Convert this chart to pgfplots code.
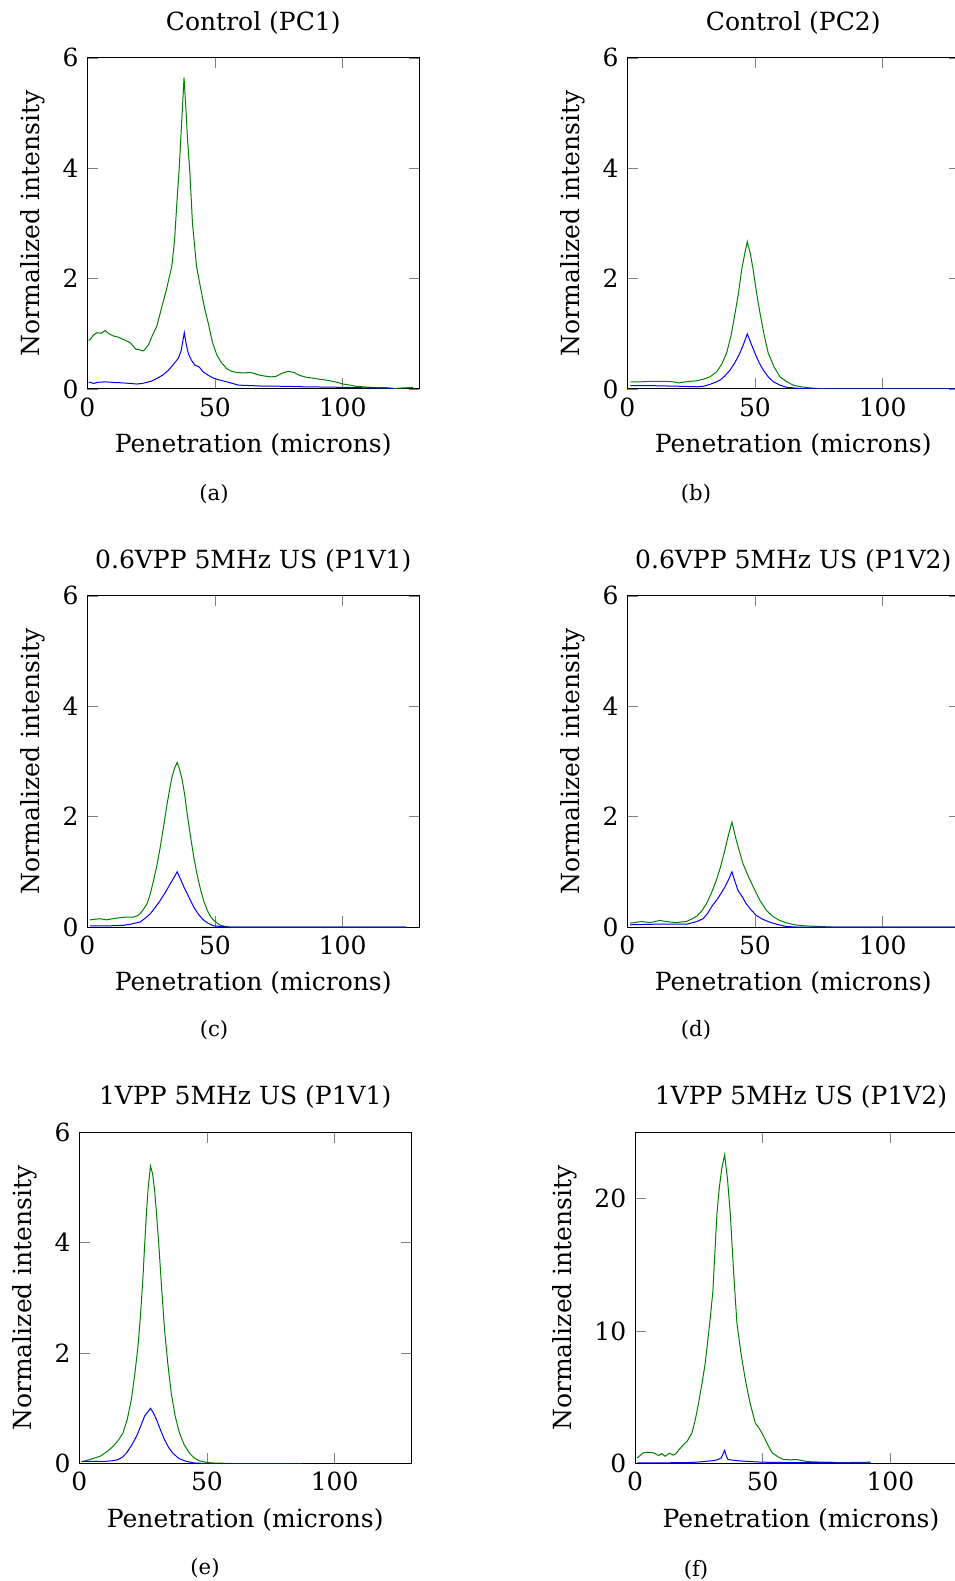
\documentclass[border=0pt]{standalone}
\usepackage{fontspec}
\setmainfont{DejaVu Serif}
\usepackage{pgfplots}
\pgfplotsset{compat=1.18}

\pgfplotsset{
  panel/.style={
    scale only axis,
    width=132.8pt, height=132.5pt,
    anchor=north west,
    xmin=0, xmax=130,
    ymin=0, ymax=6,
    xtick={0,50,100},
    ytick={0,2,4,6},
    xlabel={Penetration (microns)},
    ylabel={Normalized intensity},
    /pgf/number format/assume math mode=true,
    tick label style={font=\fontsize{10}{12}\selectfont},
    label style={font=\fontsize{10}{12}\selectfont},
    title style={font=\fontsize{10}{12}\selectfont},
  },
  gline/.style={color=green!50!black, line width=0.4pt},
  bline/.style={color=blue, line width=0.4pt},
}

\begin{document}
\begin{tikzpicture}
\useasboundingbox (0,0) rectangle (382pt,-632.4pt);

% (a)
\begin{axis}[panel, at={(34.9pt,-23.1pt)}, title={Control (PC1)}]
\addplot[gline] coordinates {
(0.5,0.88)(1.2,0.90)(2.5,0.98)(3.8,1.02)(5.5,1.01)(7.0,1.06)(8.5,1.00)(10.3,0.96)
(12,0.94)(14,0.90)(16.8,0.84)(19.1,0.72)(20.5,0.71)(22,0.69)(24,0.80)(25.5,0.97)
(27.2,1.13)(29,1.45)(31,1.80)(33.1,2.22)(34.2,2.70)(35,3.30)(36,4.00)(36.6,4.51)
(37.4,5.20)(37.9,5.64)(38.6,5.10)(39.3,4.50)(40.2,3.91)(41.2,3.00)(42.8,2.22)
(44.5,1.80)(46,1.45)(47.4,1.19)(49,0.85)(50.7,0.62)(52.5,0.48)(54.6,0.37)(56.5,0.32)
(58.5,0.30)(61,0.29)(63.7,0.30)(65.5,0.28)(67.6,0.25)(70,0.23)(72.1,0.22)(74,0.23)
(76,0.28)(78.6,0.32)(81,0.30)(83,0.25)(85.8,0.21)(88,0.20)(90.5,0.18)(93.6,0.16)
(96,0.14)(98,0.12)(100.1,0.09)(103,0.07)(105,0.05)(107.9,0.04)(111,0.03)(114,0.02)
(117,0.02)(120,0.01)(124,0.02)(127.5,0.03)
};
\addplot[bline] coordinates {
(0.5,0.12)(1.2,0.12)(2.5,0.10)(4,0.12)(7,0.13)(10,0.12)(14.2,0.11)(17,0.10)(19.4,0.09)
(21.5,0.10)(23.3,0.12)(25,0.14)(27.2,0.19)(29.5,0.25)(31.8,0.34)(33.8,0.45)(35.7,0.56)
(36.8,0.70)(38,1.02)(38.8,0.80)(39.6,0.64)(40.8,0.52)(42.2,0.43)(43.8,0.40)(45.4,0.31)
(47.3,0.25)(49.3,0.20)(52,0.16)(54.6,0.13)(57,0.10)(59.1,0.07)(65,0.06)(70,0.05)
(75.4,0.05)(85,0.04)(100,0.03)(110,0.02)(117,0.02)(120,0.01)
};
\end{axis}

% (b)
\begin{axis}[panel, at={(250.9pt,-23.1pt)}, title={Control (PC2)}]
\addplot[gline] coordinates {
(1.2,0.13)(5,0.13)(10.3,0.14)(14,0.14)(18.1,0.13)(20,0.11)(23,0.13)(27.2,0.15)(30,0.18)
(32.4,0.22)(35,0.31)(37,0.45)(38.9,0.65)(40.7,0.98)(42.2,1.37)(43.6,1.75)(44.8,2.16)
(46,2.45)(47.0,2.67)(48.2,2.45)(49.3,2.16)(50.6,1.75)(52,1.37)(53.6,0.98)(55.2,0.65)
(57.5,0.40)(59.8,0.22)(62.5,0.13)(65,0.07)(68,0.04)(71.5,0.02)(75,0.01)(80,0.0)(130,0.0)
};
\addplot[bline] coordinates {
(1.2,0.06)(10,0.06)(20,0.05)(27.2,0.04)(30,0.05)(32.4,0.085)(34.5,0.12)(36.3,0.16)
(38.3,0.24)(40.2,0.34)(42.2,0.48)(44.1,0.65)(45.6,0.82)(47.0,1.0)(48.5,0.82)(50,0.65)
(51.6,0.48)(53.3,0.34)(55.2,0.22)(57.2,0.13)(59.8,0.07)(62.4,0.03)(65,0.02)(67.7,0.01)
(72,0.0)(130,0.0)
};
\end{axis}

% (c)
\begin{axis}[panel, at={(34.9pt,-238.3pt)}, title={0.6VPP 5MHz US (P1V1)}]
\addplot[gline] coordinates {
(1.1,0.13)(3,0.14)(5,0.15)(7.6,0.13)(10,0.15)(12.9,0.17)(15.5,0.18)(18.1,0.18)(19.5,0.20)
(20.7,0.24)(22,0.32)(23.4,0.42)(24.7,0.60)(26,0.85)(27.3,1.12)(28.6,1.45)(30,1.85)
(31.3,2.24)(32.3,2.50)(33.2,2.72)(34.2,2.88)(35.2,2.98)(36.2,2.85)(37.2,2.66)(38.2,2.38)
(39.1,2.06)(40.4,1.65)(41.7,1.27)(43,0.95)(44.4,0.67)(45.7,0.46)(47,0.30)(48.3,0.19)
(49.6,0.12)(50.9,0.07)(52.2,0.03)(54,0.01)(56,0.0)(125,0.0)
};
\addplot[bline] coordinates {
(1.1,0.02)(8,0.02)(14,0.03)(16.8,0.05)(18.7,0.07)(20.7,0.09)(22.7,0.16)(24.7,0.24)
(26.7,0.36)(28.6,0.48)(30.6,0.63)(32.6,0.79)(34,0.90)(35.2,1.0)(36.5,0.87)(37.8,0.73)
(39.7,0.55)(41.7,0.36)(43.7,0.22)(45.7,0.12)(47.6,0.06)(49.6,0.02)(52,0.01)(55,0.0)(125,0.0)
};
\end{axis}

% (d)
\begin{axis}[panel, at={(250.9pt,-238.3pt)}, title={0.6VPP 5MHz US (P1V2)}]
\addplot[gline] coordinates {
(1.05,0.07)(3,0.08)(5.6,0.10)(7,0.09)(8.9,0.08)(11,0.10)(12.8,0.12)(15,0.10)(17,0.09)
(19.3,0.08)(21,0.09)(23.2,0.10)(25,0.14)(27.1,0.19)(29,0.28)(31,0.42)(33,0.62)(34.9,0.85)
(36.6,1.10)(38.2,1.39)(39.7,1.68)(41.0,1.90)(42.7,1.57)(45.3,1.15)(47.3,0.93)(49.3,0.73)
(52,0.48)(54.5,0.30)(57,0.19)(59.7,0.12)(62,0.08)(64.6,0.05)(67,0.03)(70,0.02)(75,0.01)
(80,0.0)(130,0.0)
};
\addplot[bline] coordinates {
(1.05,0.04)(10,0.05)(20,0.05)(23.2,0.05)(25,0.07)(27.3,0.10)(29.7,0.15)(31.5,0.25)
(33.2,0.38)(34.9,0.48)(36.6,0.60)(38.2,0.72)(39.7,0.86)(41,1.0)(42.2,0.82)(43.4,0.66)
(45,0.55)(46.6,0.42)(48.5,0.31)(50.5,0.21)(53,0.14)(55.7,0.09)(58.5,0.05)(62,0.01)
(66,0.0)(130,0.0)
};
\end{axis}

% (e)
\begin{axis}[panel, at={(31.7pt,-452.9pt)}, title={1VPP 5MHz US (P1V1)}]
\addplot[gline] coordinates {
(0.9,0.03)(4,0.07)(8.1,0.13)(11,0.22)(13.2,0.31)(15.3,0.42)(17.1,0.55)(18.8,0.80)
(20.4,1.16)(21.7,1.60)(23,2.12)(24,2.70)(24.9,3.33)(25.6,3.95)(26.3,4.53)(27,5.00)
(27.9,5.39)(28.7,5.25)(29.5,4.96)(30.3,4.50)(31.2,3.93)(32.3,3.15)(33.4,2.42)(34.7,1.80)
(36,1.28)(37.6,0.85)(39.2,0.56)(41,0.35)(43.1,0.19)(45,0.10)(47,0.05)(50,0.02)(52,0.01)
(60,0.0)(87.3,0.0)
};
\addplot[bline] coordinates {
(0.9,0.04)(5,0.04)(10.6,0.04)(13,0.05)(15.2,0.07)(17,0.12)(18.5,0.19)(20.5,0.33)
(22.4,0.49)(24,0.67)(25.6,0.86)(27.9,1.0)(29,0.92)(30.2,0.80)(31.8,0.61)(33.4,0.43)
(35,0.29)(36.6,0.19)(39,0.09)(41.8,0.04)(45,0.01)(50,0.0)(87.3,0.0)
};
\end{axis}

% (f)
\begin{axis}[panel, at={(254.0pt,-452.9pt)}, title={1VPP 5MHz US (P1V2)},
  ymax=25, ytick={0,10,20}]
\addplot[gline] coordinates {
(0.9,0.43)(2,0.6)(3.3,0.81)(5,0.85)(7.2,0.81)(8.3,0.7)(9.2,0.60)(10.5,0.75)(11.8,0.55)
(13.5,0.78)(15,0.63)(16,0.75)(17.5,1.1)(19,1.43)(20.5,1.7)(22.3,2.31)(23.6,3.3)(24.9,4.57)
(26.2,6.0)(27.5,7.58)(29.4,10.84)(30.5,13.0)(31.3,16.0)(32.1,18.9)(33,20.8)(34,22.3)
(35.1,23.3)(36.2,21.5)(37.3,18.9)(38.6,14.5)(39.9,10.6)(41.5,8.3)(43.2,6.33)(45,4.6)
(47.1,3.06)(48.8,2.6)(50.4,2.06)(52,1.4)(53.7,0.81)(56,0.5)(58.2,0.30)(61,0.28)(63.5,0.30)
(65.5,0.22)(67.4,0.15)(70,0.12)(76.6,0.10)(80,0.06)(85,0.08)(92.3,0.10)
};
\addplot[bline] coordinates {
(0.9,0.05)(10,0.05)(20,0.07)(24,0.1)(27,0.15)(30.7,0.22)(32.5,0.3)(33.8,0.43)(35.1,1.0)
(35.8,0.55)(36.4,0.30)(38.5,0.25)(40.8,0.20)(45,0.15)(50,0.10)(60,0.07)(75,0.06)(92.3,0.05)
};
\end{axis}

% subfigure captions
\node[font=\fontsize{8.5}{10}\selectfont] at (85.6pt,-197.6pt) {(a)};
\node[font=\fontsize{8.5}{10}\selectfont] at (278.4pt,-197.6pt) {(b)};
\node[font=\fontsize{8.5}{10}\selectfont] at (85.6pt,-412pt) {(c)};
\node[font=\fontsize{8.5}{10}\selectfont] at (278.4pt,-412pt) {(d)};
\node[font=\fontsize{8.5}{10}\selectfont] at (82pt,-627.2pt) {(e)};
\node[font=\fontsize{8.5}{10}\selectfont] at (278.4pt,-628pt) {(f)};
\end{tikzpicture}
\end{document}
